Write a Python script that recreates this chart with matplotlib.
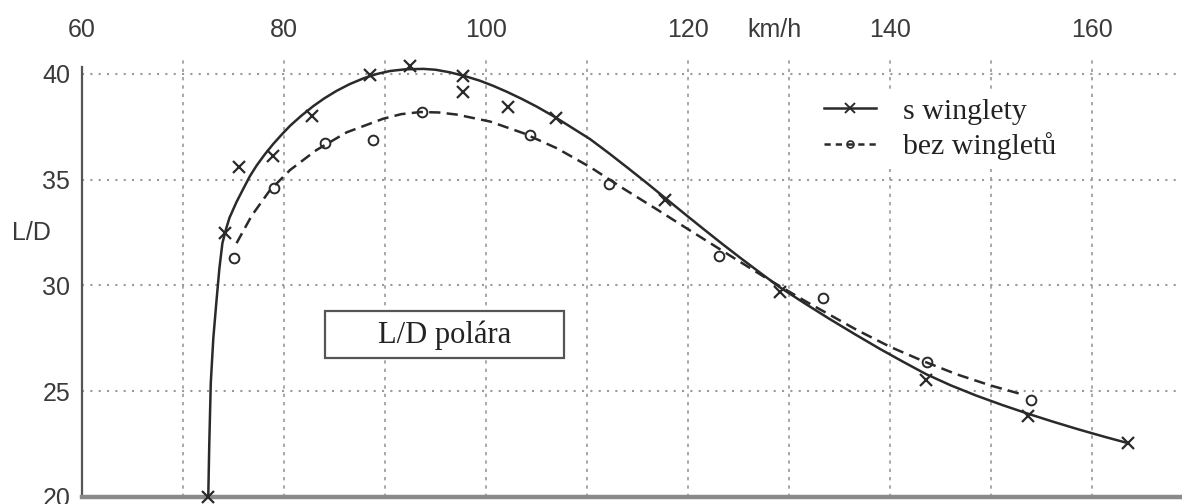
import matplotlib
matplotlib.use("Agg")
import matplotlib.pyplot as plt
from matplotlib.lines import Line2D
from matplotlib.patches import Rectangle

# --- Data (speed km/h, L/D) ---
# measured points, with winglets (x markers)
speed_with = [72.5, 74.2, 75.5, 78.9, 82.8, 88.5, 92.5, 97.75, 97.75, 102.2, 106.9,
              117.7, 129.1, 143.6, 153.7, 163.6]
ld_with = [20.0, 32.5, 35.6, 36.1, 38.0, 39.95, 40.38, 39.9, 39.17, 38.46, 37.9,
           34.05, 29.7, 25.55, 23.83, 22.57]

# measured points, without winglets (o markers)
speed_without = [75.05, 79.0, 84.1, 88.8, 93.7, 104.35, 112.2, 123.1, 133.4, 143.7, 154.0]
ld_without = [31.3, 34.6, 36.75, 36.9, 38.2, 37.1, 34.8, 31.4, 29.4, 26.4, 24.6]

# fitted curves
curve_with_x = [72.5, 72.6, 72.75, 73.0, 73.3, 73.6, 73.9, 74.25, 74.6, 75.3, 76.0, 76.6,
                77.3, 78.1, 78.95, 79.8, 80.6, 81.7, 82.9, 84.0, 85.2, 86.5, 87.9, 89.2,
                90.5, 92.0, 93.8, 95.0, 96.4, 97.9, 99.4, 100.7, 102.05, 103.5, 105.0,
                106.8, 108.6, 110.3, 112.2, 114.0, 115.9, 117.7, 119.6, 121.5, 123.4,
                125.3, 127.2, 129.1, 131.5, 134.0, 136.5, 139.0, 141.3, 143.6, 146.0,
                148.5, 151.1, 153.7, 156.2, 158.7, 161.2, 163.6]
curve_with_y = [20.0, 22.5, 25.4, 27.5, 29.2, 30.8, 32.0, 32.65, 33.2, 33.95, 34.6, 35.15,
                35.68, 36.2, 36.7, 37.15, 37.55, 38.02, 38.48, 38.85, 39.2, 39.52, 39.8,
                40.0, 40.14, 40.22, 40.24, 40.2, 40.08, 39.9, 39.68, 39.44, 39.16, 38.83,
                38.46, 37.97, 37.43, 36.92, 36.24, 35.57, 34.85, 34.15, 33.41, 32.68,
                31.96, 31.26, 30.58, 29.91, 29.17, 28.42, 27.7, 27.0, 26.39, 25.8, 25.28,
                24.8, 24.35, 23.93, 23.55, 23.19, 22.85, 22.54]

curve_without_x = [75.3, 76.8, 78.6, 80.6, 83.2, 86.2, 89.8, 91.6, 93.5, 95.3, 97.1,
                   100.4, 103.7, 107.0, 110.3, 113.6, 116.9, 120.2, 124.2, 127.8, 131.75,
                   136.7, 140.0, 143.3, 146.6, 149.9, 153.3]
curve_without_y = [32.0, 33.3, 34.5, 35.46, 36.4, 37.24, 37.88, 38.1, 38.2, 38.18, 38.08,
                   37.75, 37.2, 36.49, 35.6, 34.58, 33.6, 32.6, 31.4, 30.33, 29.22,
                   27.9, 27.1, 26.42, 25.8, 25.28, 24.82]

x_ticks = [60, 80, 100, 120, 140, 160]
x_grid = [70, 80, 90, 100, 110, 120, 130, 140, 150, 160]
y_ticks = [20, 25, 30, 35, 40]

LINE = "#2a2a2a"
TEXT = "#3a3a3a"
GRID = "#9a9a9a"
SANS = "Liberation Sans"
SERIF = "Liberation Serif"

fig = plt.figure(figsize=(11.82, 5.04), dpi=100)
ax = fig.add_axes([82 / 1182, 7 / 504, 1100 / 1182, 437 / 504])
ax.set_xlim(60, 168.9)
ax.set_ylim(20, 40.66)

# grid
for g in x_grid:
    ax.axvline(g, color=GRID, lw=1.2, linestyle=(0, (2, 3)), zorder=0)
for g in y_ticks[1:]:
    ax.axhline(g, color=GRID, lw=1.5, linestyle=(0, (1, 3)), zorder=0)

# curves
ax.plot(curve_with_x, curve_with_y, color=LINE, lw=1.8, zorder=3,
        solid_joinstyle="round")
ax.plot(curve_without_x, curve_without_y, color=LINE, lw=1.8, linestyle=(0, (4.5, 2.5)),
        zorder=3, dash_joinstyle="round")

# measured points
ax.plot(speed_with, ld_with, linestyle="none", marker="x", ms=9, mew=1.6,
        color=LINE, clip_on=False, zorder=4)
ax.plot(speed_without, ld_without, linestyle="none", marker="o", ms=7, mew=1.4,
        mfc="none", mec=LINE, clip_on=False, zorder=4)

# axes styling
for side in ["top", "right"]:
    ax.spines[side].set_visible(False)
ax.spines["left"].set_color("#555555")
ax.spines["left"].set_linewidth(1.6)
ax.spines["left"].set_bounds(20, 40.33)
ax.spines["bottom"].set_color("#8a8a8a")
ax.spines["bottom"].set_linewidth(3.2)

ax.xaxis.tick_top()
ax.set_xticks(x_ticks)
ax.set_xticklabels([str(v) for v in x_ticks], fontfamily=SANS, fontsize=18, color=TEXT)
ax.set_yticks(y_ticks)
ax.set_yticklabels([str(v) for v in y_ticks], fontfamily=SANS, fontsize=18, color=TEXT)
ax.tick_params(axis="x", length=0, pad=13)
ax.tick_params(axis="y", length=0, pad=8.5)

ax.text(128.6, 467 / 437, "km/h", transform=ax.get_xaxis_transform(), ha="center",
        va="center", fontfamily=SANS, fontsize=18, color=TEXT)
ax.text(-70 / 1100, 32.5, "L/D", transform=ax.get_yaxis_transform(), ha="left", va="center",
        fontfamily=SANS, fontsize=18, color=TEXT)

# title box
ax.add_patch(Rectangle((243 / 1100, 139 / 437), 239 / 1100, 47 / 437, transform=ax.transAxes,
                       fill=True, facecolor="white", edgecolor="#555555", lw=1.6, zorder=5))
ax.text(363 / 1100, 162 / 437, "L/D polára", transform=ax.transAxes, ha="center", va="center",
        fontfamily=SERIF, fontsize=22, color="#222222", zorder=6)

# legend
handles = [
    Line2D([], [], color=LINE, lw=1.8, marker="x", ms=7, mew=1.4, markevery=[1]),
    Line2D([], [], color=LINE, lw=1.8, linestyle=(0, (2.5, 2)), marker="o", ms=5, mew=1.2,
           mfc="none", markevery=[1]),
]
for h in handles:
    h.set_xdata([0, 0.55, 1.0])
leg = ax.legend(handles, ["s winglety", "bez wingletů"], loc="upper left",
                bbox_to_anchor=(733 / 1100, 408 / 437), frameon=True, fancybox=False,
                framealpha=1.0, edgecolor="none", facecolor="white",
                prop={"family": SERIF, "size": 21.5}, handlelength=1.75, handletextpad=0.9,
                labelspacing=0.25, borderpad=0.3, borderaxespad=0)
for t in leg.get_texts():
    t.set_color("#222222")

fig.savefig("out.png", dpi=100)
